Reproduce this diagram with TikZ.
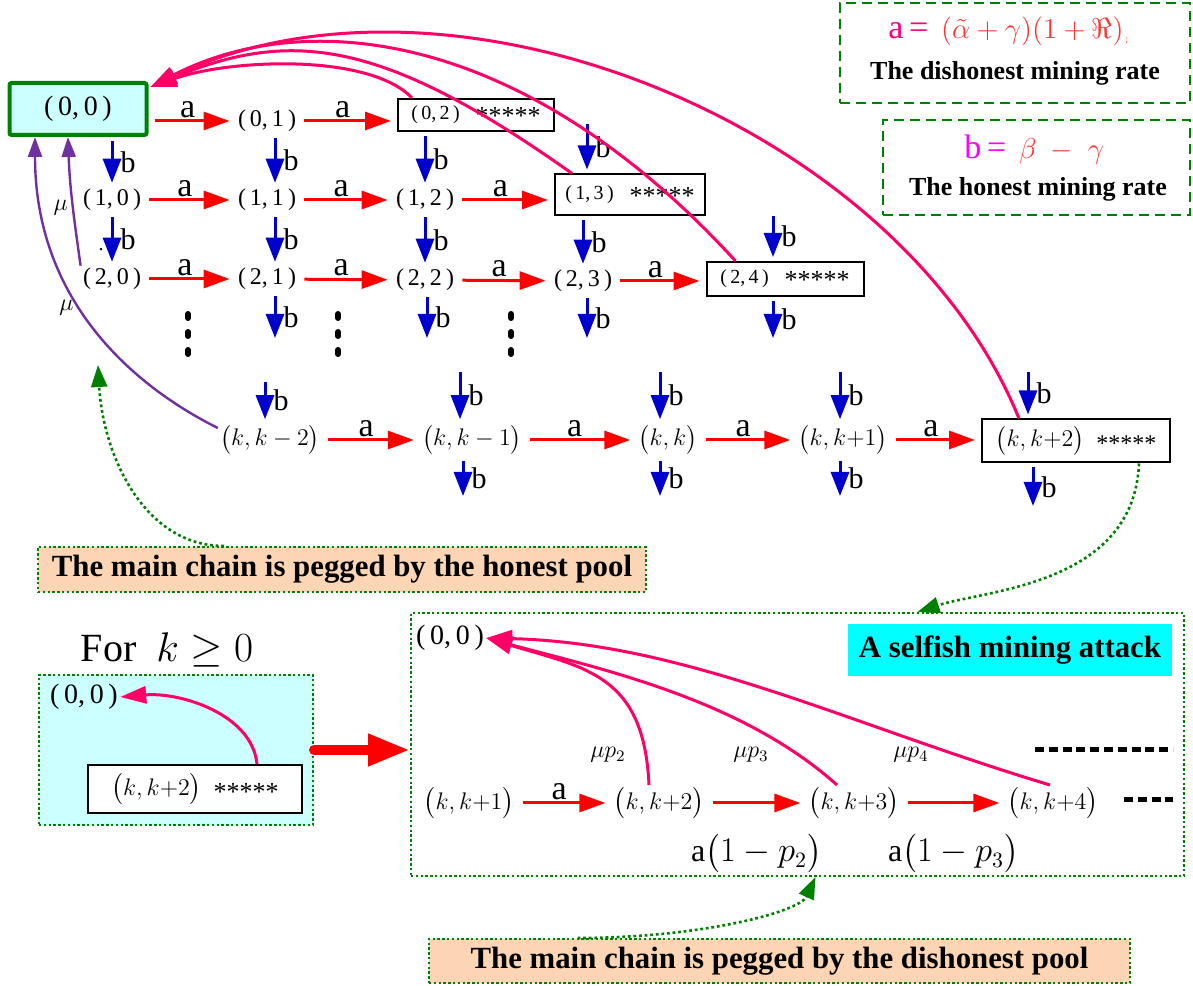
\documentclass[tikz,border=0pt]{standalone}
\usepackage{amsmath,amssymb}
\usepackage{fontspec}
\setmainfont{Liberation Serif}
\usetikzlibrary{arrows.meta}

\definecolor{pinkarc}{RGB}{255,0,102}
\definecolor{purplearc}{RGB}{112,48,160}
\definecolor{darkgreen}{RGB}{0,128,0}
\definecolor{lightcyan}{RGB}{204,255,255}
\definecolor{aqua}{RGB}{0,255,255}
\definecolor{peach}{RGB}{252,213,180}
\definecolor{arrblue}{RGB}{0,0,204}
\definecolor{formred}{RGB}{255,51,51}
\definecolor{formpink}{RGB}{255,0,128}
\definecolor{formmag}{RGB}{255,0,255}

\newcommand{\tup}[2]{(\,#1,\,#2\,)}
\newcommand{\stars}{\raisebox{-0.45ex}{*****}}

\begin{document}
\begin{tikzpicture}[x=0.5pt, y=0.5pt,
	every node/.style={font=\fontsize{12}{14}\selectfont, inner sep=1pt, text=black},
	sbox/.style={draw, line width=1pt, fill=white},
	aarr/.style={red, line width=1.5pt, -{Triangle[length=13pt,width=9pt]}, shorten <=3pt, shorten >=3pt},
	barr/.style={arrblue, line width=1.5pt, -{Triangle[length=12pt,width=9pt]}, shorten <=2pt, shorten >=2pt},
	alab/.style={above, inner sep=1pt, font=\fontsize{17}{17}\selectfont},
	blab/.style={right=3.5pt, inner sep=0pt, font=\fontsize{15}{15}\selectfont},
	parr/.style={pinkarc, line width=1.5pt, -{Triangle[length=13pt,width=8.5pt]}},
	uarr/.style={purplearc, line width=1.2pt, -{Triangle[length=10pt,width=7pt]}},
	garr/.style={darkgreen, line width=1.3pt, dash pattern=on 1.4pt off 1.4pt, -{Triangle[length=11pt,width=8pt]}},
	gbox/.style={draw=darkgreen, line width=1pt, dash pattern=on 1.2pt off 1.2pt},
	lbox/.style={draw=darkgreen, line width=1pt, dash pattern=on 5pt off 3pt},
	btxt/.style={font=\fontsize{15.4}{18}\selectfont\bfseries},
	vdots/.style={line width=3pt, line cap=round, dash pattern=on 2pt off 7pt}]
	\path[use as bounding box, fill=white] (0,0) rectangle (1193,985);

	% legend
	\node[lbox, minimum width=175pt, minimum height=50pt] (leg1) at (1015,932) {};
	\node[anchor=base west, text=formpink, font=\fontsize{17}{17}\selectfont] (fa1) at (886,946) {a\,=};
	\node[anchor=base west, text=formred, font=\fontsize{14}{14}\selectfont] (fa2) at ([xshift=4pt]fa1.base east) {$(\tilde{\alpha}+\gamma)(1+\Re)$\raisebox{-0.3ex}{\tiny\,;}};
	\node[font=\fontsize{13}{15}\selectfont\bfseries] (ta) at (1015,912) {The dishonest mining rate};
	\node[lbox, minimum width=153.5pt, minimum height=47.5pt] (leg2) at (1036.5,817.5) {};
	\node[anchor=base west, text=formmag, font=\fontsize{17}{17}\selectfont] (fb1) at (962,826) {b\,=};
	\node[anchor=base west, text=formred, font=\fontsize{14}{14}\selectfont] (fb2) at ([xshift=4pt]fb1.base east) {$\beta\;-\;\gamma$};
	\node[font=\fontsize{13}{15}\selectfont\bfseries] (tb) at (1038,796) {The honest mining rate};

	% big frames
	\node[gbox, minimum width=386.5pt, minimum height=131.5pt] (selfbox) at (797.5,240.5) {};
	\node[gbox, fill=lightcyan, minimum width=137pt, minimum height=75pt] (blbox) at (176,235) {};
	\node[gbox, fill=peach, minimum width=304pt, minimum height=22.5pt, btxt] (hbox) at (342,415.5) {The main chain is pegged by the honest pool};
	\node[gbox, fill=peach, minimum width=350.5pt, minimum height=22pt, btxt] (dbox) at (779.5,24) {The main chain is pegged by the dishonest pool};
	\node[fill=aqua, minimum width=162pt, minimum height=26pt, btxt] (sbox) at (1010,335) {A selfish mining attack};

	% states
	\node[draw=darkgreen, line width=2pt, rounded corners=1pt, fill=lightcyan, minimum width=68.5pt, minimum height=26pt, font=\fontsize{14}{16}\selectfont] (n00) at (78,876) {\tup{0}{0}};
	\node (n01) at (267,864) {\tup{0}{1}};
	\node[sbox, minimum width=78pt, minimum height=16pt, font=\fontsize{10}{12}\selectfont] (n02) at (476,870) {\tup{0}{2}\hspace{8pt}{\fontsize{13}{13}\selectfont\stars}};
	\node (n10) at (112,785) {\tup{1}{0}};
	\node (n11) at (267,785) {\tup{1}{1}};
	\node (n12) at (425,785) {\tup{1}{2}};
	\node[sbox, minimum width=75pt, minimum height=20.5pt, font=\fontsize{10}{12}\selectfont] (n13) at (630,790) {\tup{1}{3}\hspace{8pt}{\fontsize{13}{13}\selectfont\stars}};
	\node (n20) at (112,706) {\tup{2}{0}};
	\node (n21) at (267,706) {\tup{2}{1}};
	\node (n22) at (425,705) {\tup{2}{2}};
	\node (n23) at (583,704) {\tup{2}{3}};
	\node[sbox, minimum width=78.5pt, minimum height=17pt, font=\fontsize{10}{12}\selectfont] (n24) at (785,706) {\tup{2}{4}\hspace{8pt}{\fontsize{13}{13}\selectfont\stars}};
	\node (nk2) at (270,545) {$\bigl(k,k-2\bigr)$};
	\node (nk1) at (472,545) {$\bigl(k,k-1\bigr)$};
	\node (nkk) at (668,545) {$\bigl(k,k\bigr)$};
	\node (nkp1) at (843,545) {$\bigl(k,k{+}1\bigr)$};
	\node[sbox, minimum width=94pt, minimum height=21.5pt] (nkp2) at (1076,544) {$\bigl(k,k{+}2\bigr)$\hspace{6pt}\stars};
	\node[font=\fontsize{10}{10}\selectfont] (dot) at (101,735) {.};

	\foreach \x in {188,338,511} \draw[vdots] (\x,671) -- (\x,631);

	% a transitions
	\draw[aarr] (n01 -| n00.east) -- (n01) node[alab, pos=0.45] {a};
	\draw[aarr] (n01) -- (n01 -| n02.west) node[alab, pos=0.45] {a};
	\foreach \u/\v in {n10/n11, n11/n12, n20/n21, n21/n22, n22/n23, nk2/nk1, nk1/nkk, nkk/nkp1}
		\draw[aarr] (\u) -- (\v) node[alab, pos=0.45] {a};
	\foreach \u/\v in {n12/n13, n23/n24, nkp1/nkp2}
		\draw[aarr] (\u) -- (\u -| \v.west) node[alab, pos=0.45] {a};

	% b transitions
	\foreach \u/\v in {n00/n10, n02/n12, n10/n20, n12/n22, n13/n23}
		\draw[barr] (\v |- \u.south) -- (\v) node[blab, midway] {b};
	\draw[barr] ([xshift=4pt]n01.south) -- ([xshift=4pt]n11.north) node[blab, midway] {b};
	\draw[barr] ([xshift=4pt]n11.south) -- ([xshift=4pt]n21.north) node[blab, midway] {b};
	\coordinate (t13) at (587,865);
	\coordinate (t24) at (773,773);
	\draw[barr] (t13) -- (t13 |- n13.north) node[blab, midway] {b};
	\draw[barr] (t24) -- (t24 |- n24.north) node[blab, midway] {b};
	\foreach \n/\x in {21/275, 22/427, 23/587, 24/773} {
		\coordinate (d\n) at (\x,643);
		\draw[barr] (d\n |- n\n.south) -- (d\n) node[blab, midway] {b};
	}
	\foreach \n/\x/\y in {k2/265/607, k1/460/617, kk/660/617, kp1/840/617, kp2/1028/617} {
		\coordinate (t\n) at (\x,\y);
		\draw[barr] (t\n) -- (t\n |- n\n.north) node[blab, midway] {b};
	}
	\foreach \n/\x/\y in {k1/463/485, kk/660/485, kp1/840/485, kp2/1033/475} {
		\coordinate (d\n) at (\x,\y);
		\draw[barr] (d\n |- n\n.south) -- (d\n) node[blab, midway] {b};
	}

	% back to (0,0)
	\coordinate (hit) at ([xshift=1pt,yshift=-3pt]n00.north east);
	\draw[parr] ([xshift=7.5pt]n02.north west) .. controls +(-43,45) and +(80,28) .. (hit);
	\draw[parr] ([xshift=9pt]n13.north west) .. controls +(-190,135) and +(140,58) .. (hit);
	\draw[parr] ([xshift=15pt]n24.north west) .. controls +(-217,237) and +(150,78) .. (hit);
	\draw[parr] ([xshift=19pt]nkp2.north west) .. controls +(-120,295) and +(300,143) .. (hit);
	\draw[uarr] (n20.north west) to[out=98, in=-88] node[pos=0.45, left=1pt] {$\mu$} ([xshift=-5pt]n00.south);
	\draw[uarr] ([yshift=6pt]nk2.west) .. controls +(-90,45) and +(0,-160) .. ([xshift=-21.5pt]n00.south) node[pos=0.56, left=2pt] {$\mu$};

	% notes
	\coordinate (ghon) at (98,620);
	\draw[garr] ([xshift=-59pt]hbox.north) .. controls +(-80,0) and +(5,-90) .. (ghon);
	\draw[garr] ([xshift=31.5pt]nkp2.south) .. controls +(-5,-122) and +(67,22) .. ([xshift=60pt]selfbox.north);
	\draw[garr] ([xshift=-101pt]dbox.north) .. controls +(123,0) and +(-16,-35) .. ([xshift=9pt]selfbox.south);

	% for k >= 0
	\node[font=\fontsize{20}{22}\selectfont] (fork) at (167,335) {For\ \ $k\geq 0$};
	\node[font=\fontsize{14}{16}\selectfont] (bl00) at (84,288) {\tup{0}{0}};
	\node[sbox, minimum width=107pt, minimum height=24pt, font=\fontsize{13}{15}\selectfont] (blk) at (195,196) {$\bigl(k,k{+}2\bigr)$\hspace{6pt}\stars};
	\draw[parr] ([xshift=31pt]blk.north) .. controls +(-5,50) and +(60,5) .. (bl00.east);
	\draw[red, line width=5pt, line cap=round, -{Triangle[length=21pt,width=15pt]}] (blbox.east) -- (blbox.east -| selfbox.west);

	% selfish mining attack
	\node[font=\fontsize{14}{16}\selectfont] (s00) at (450,347) {\tup{0}{0}};
	\node[font=\fontsize{13}{15}\selectfont] (sk1) at (469,182) {$\bigl(k,k{+}1\bigr)$};
	\node[font=\fontsize{13}{15}\selectfont] (sk2) at (659,182) {$\bigl(k,k{+}2\bigr)$};
	\node[font=\fontsize{13}{15}\selectfont] (sk3) at (854,182) {$\bigl(k,k{+}3\bigr)$};
	\node[font=\fontsize{13}{15}\selectfont] (sk4) at (1053,182) {$\bigl(k,k{+}4\bigr)$};
	\draw[aarr] (sk1) -- (sk2) node[alab, pos=0.45] {a};
	\draw[aarr] (sk2) -- (sk3) node[midway, below=13pt, font=\fontsize{16}{18}\selectfont] {$\mathrm{a}\bigl(1-p_2\bigr)$};
	\draw[aarr] (sk3) -- (sk4) node[midway, below=13pt, font=\fontsize{16}{18}\selectfont] {$\mathrm{a}\bigl(1-p_3\bigr)$};
	\draw[parr] ([xshift=-5pt]sk2.north) .. controls +(-5,110) and +(100,-30) .. (s00.east);
	\draw[parr] ([xshift=-8.5pt]sk3.north) .. controls +(-97,87) and +(110,-30) .. (s00.east);
	\draw[parr] ([xshift=-1.5pt]sk4.north) .. controls +(-200,60) and +(200,-5) .. (s00.east);
	\node (mp2) at (608,230) {$\mu p_2$};
	\node (mp3) at (751,230) {$\mu p_3$};
	\node (mp4) at (911,230) {$\mu p_4$};
	\draw[line width=2.5pt, dash pattern=on 4.5pt off 2.4pt] (1035,235) -- (1173,235);
	\draw[line width=2.5pt, dash pattern=on 4.5pt off 2.4pt] (1124,185) -- (1173,185);
\end{tikzpicture}
\end{document}
